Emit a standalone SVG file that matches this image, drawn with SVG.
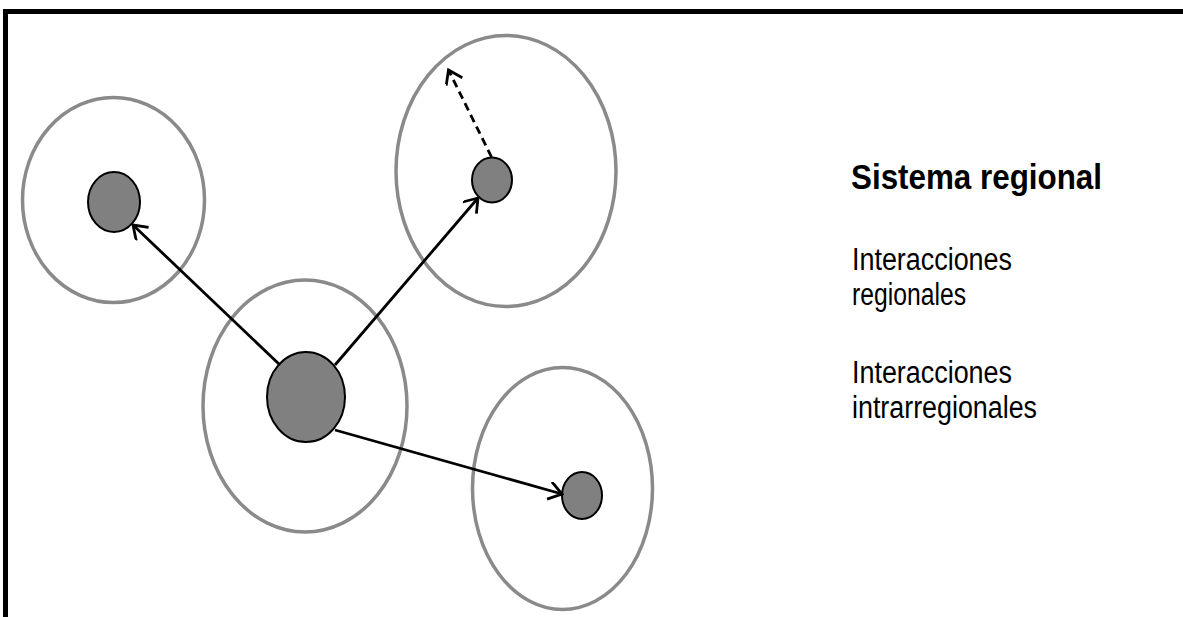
<svg xmlns="http://www.w3.org/2000/svg" width="1183" height="617" viewBox="0 0 1183 617">
  <style>
    .zone { fill: none; stroke: #8a8a8a; stroke-width: 3.5; }
    .core { fill: #808080; stroke: #000; stroke-width: 2; }
    .link { fill: none; stroke: #000; stroke-width: 2.8; }
    .dash { stroke-dasharray: 8 5; }
    .title { font-family: "Liberation Sans", Arial, sans-serif; font-weight: bold; font-size: 35px; fill: #000; }
    .label { font-family: "Liberation Sans", Arial, sans-serif; font-size: 31px; fill: #000; }
  </style>
  <defs>
    <marker id="chevron" markerUnits="userSpaceOnUse" markerWidth="22" markerHeight="22" refX="15" refY="9" orient="auto">
      <path d="M2,0 L15,9 L2,18" fill="none" stroke="#000" stroke-width="2.8" stroke-linejoin="miter"/>
    </marker>
  </defs>

  <rect width="1183" height="617" fill="#fff"/>

  <!-- frame: top and left edges only -->
  <path d="M5.5,617 L5.5,11.5 L1183,11.5" fill="none" stroke="#000" stroke-width="5"/>

  <g id="node-west">
    <ellipse class="zone" cx="113.5" cy="200" rx="91" ry="102.5"/>
    <ellipse class="core" cx="114" cy="202" rx="26" ry="30"/>
  </g>

  <g id="node-north">
    <ellipse class="zone" cx="506" cy="171" rx="110" ry="135.5"/>
    <ellipse class="core" cx="492" cy="180" rx="20" ry="22.5"/>
  </g>

  <g id="node-center">
    <ellipse class="zone" cx="305" cy="406" rx="102" ry="126"/>
    <ellipse class="core" cx="306" cy="397" rx="39" ry="45"/>
  </g>

  <g id="node-southeast">
    <ellipse class="zone" cx="562.5" cy="488.5" rx="90" ry="121"/>
    <ellipse class="core" cx="582" cy="495.5" rx="20" ry="23.5"/>
  </g>

  <g id="connectors">
    <line class="link" x1="280" y1="365" x2="133" y2="225" marker-end="url(#chevron)"/>
    <line class="link" x1="335" y1="365" x2="478" y2="198" marker-end="url(#chevron)"/>
    <line class="link" x1="335" y1="430" x2="562" y2="494" marker-end="url(#chevron)"/>
    <line class="link dash" x1="491.5" y1="157" x2="448.5" y2="70" marker-end="url(#chevron)"/>
  </g>

  <g id="legend">
    <text class="title" x="851" y="189" textLength="251" lengthAdjust="spacingAndGlyphs">Sistema regional</text>
    <text class="label" x="852" y="270" textLength="160" lengthAdjust="spacingAndGlyphs">Interacciones</text>
    <text class="label" x="852" y="305" textLength="114" lengthAdjust="spacingAndGlyphs">regionales</text>
    <text class="label" x="852" y="383" textLength="160" lengthAdjust="spacingAndGlyphs">Interacciones</text>
    <text class="label" x="852" y="418" textLength="185" lengthAdjust="spacingAndGlyphs">intrarregionales</text>
  </g>
</svg>
